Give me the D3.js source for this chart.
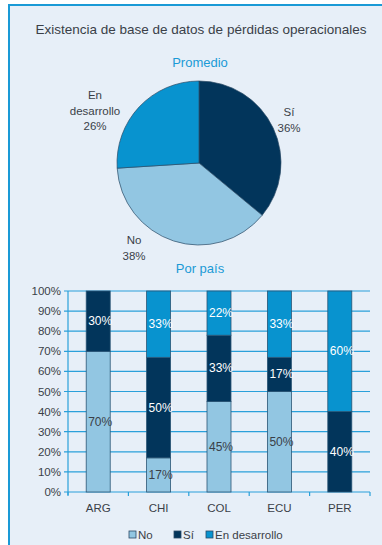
<!DOCTYPE html>
<meta charset="utf-8">
<style>
body { margin: 0; background: #fff; font-family: 'Liberation Sans', Arial, sans-serif; }
svg text { font-family: 'Liberation Sans', Arial, sans-serif; }
</style>
<svg id="chart" width="382" height="545"></svg>
<script src="https://cdn.jsdelivr.net/npm/d3@7"></script>
<script>

// pie data (Promedio)
var pieLabels = ["Sí", "No", "En desarrollo"];
var pieValues = [36, 38, 26];

// bar data (Por país)
var countries = ["ARG", "CHI", "COL", "ECU", "PER"];
var noVals  = [70, 17, 45, 50, 0];
var siVals  = [30, 50, 33, 17, 40];
var desVals = [0, 33, 22, 33, 60];
var yTicks = [0, 10, 20, 30, 40, 50, 60, 70, 80, 90, 100];

var colors = { "No": "#92c6e2", "Sí": "#02355b", "En desarrollo": "#0893cf" };
var textDark = "#3a3f48";

var svg = d3.select("#chart");

// panel
svg.append("rect").attr("x", 9).attr("y", 5).attr("width", 380).attr("height", 545)
  .attr("fill", "#e7eff8").attr("stroke", "#1a9ad6").attr("stroke-width", 2);

svg.append("text").attr("x", 201).attr("y", 34).attr("text-anchor", "middle")
  .attr("font-size", 13.5).attr("fill", textDark)
  .text("Existencia de base de datos de pérdidas operacionales");

svg.append("text").attr("x", 200).attr("y", 67).attr("text-anchor", "middle")
  .attr("font-size", 13).attr("fill", "#1a9ad6").text("Promedio");

// ---- pie ----
var pieData = pieLabels.map(function(d, i) { return { label: d, value: pieValues[i] }; });
var pie = d3.pie().sort(null).value(function(d) { return d.value; });
var arc = d3.arc().innerRadius(0).outerRadius(82);

var pg = svg.append("g").attr("transform", "translate(199,163)");
pg.selectAll("path")
  .data(pie(pieData))
  .enter().append("path")
    .attr("d", arc)
    .attr("fill", function(d) { return colors[d.data.label]; })
    .attr("stroke", "#2b4a66")
    .attr("stroke-width", 0.7);

var pieLabelPos = {
  "Sí": [289, 112],
  "En desarrollo": [95, 95],
  "No": [134, 240]
};
pie(pieData).forEach(function(d) {
  var p = pieLabelPos[d.data.label];
  var lines = d.data.label == "En desarrollo" ? ["En", "desarrollo"] : [d.data.label];
  lines.push(d.data.value + "%");
  var t = svg.append("text").attr("text-anchor", "middle")
    .attr("font-size", 11.5).attr("fill", textDark);
  lines.forEach(function(l, i) {
    t.append("tspan").attr("x", p[0]).attr("y", p[1] + 4 + i * 15.5).text(l);
  });
});

// ---- stacked bars ----
svg.append("text").attr("x", 200).attr("y", 273).attr("text-anchor", "middle")
  .attr("font-size", 13).attr("fill", "#1a9ad6").text("Por país");

var x = d3.scaleBand().domain(countries).range([68, 370]).paddingInner(0.6).paddingOuter(0.3);
var y = d3.scaleLinear().domain([0, 100]).range([492, 291]);

// grid
svg.append("g").selectAll("line")
  .data(yTicks)
  .enter().append("line")
    .attr("x1", 64).attr("x2", 370)
    .attr("y1", function(d) { return y(d); }).attr("y2", function(d) { return y(d); })
    .attr("stroke", "#2aa0da").attr("stroke-width", 1.2);

svg.append("g").selectAll("text")
  .data(yTicks)
  .enter().append("text")
    .attr("x", 61).attr("y", function(d) { return y(d) + 4; })
    .attr("text-anchor", "end").attr("font-size", 11.5).attr("fill", textDark)
    .text(function(d) { return d + "%"; });

svg.append("line").attr("x1", 68).attr("x2", 68).attr("y1", 291).attr("y2", 495)
  .attr("stroke", "#2aa0da").attr("stroke-width", 1.2);

// x tick marks at band boundaries
var step = (370 - 68) / countries.length;
svg.append("g").selectAll("line")
  .data(d3.range(countries.length + 1))
  .enter().append("line")
    .attr("x1", function(i) { return 68 + i * step; })
    .attr("x2", function(i) { return 68 + i * step; })
    .attr("y1", 492).attr("y2", 496)
    .attr("stroke", "#2aa0da").attr("stroke-width", 1.2);

var keys = ["No", "Sí", "En desarrollo"];
var rows = countries.map(function(c, i) {
  return { country: c, "No": noVals[i], "Sí": siVals[i], "En desarrollo": desVals[i] };
});
var series = d3.stack().keys(keys)(rows);

var bw = 24;
series.forEach(function(s) {
  var g = svg.append("g");
  g.selectAll("rect")
    .data(s.filter(function(d) { return d[1] > d[0]; }))
    .enter().append("rect")
      .attr("x", function(d) { return x(d.data.country) + x.bandwidth() / 2 - bw / 2; })
      .attr("width", bw)
      .attr("y", function(d) { return y(d[1]); })
      .attr("height", function(d) { return y(d[0]) - y(d[1]); })
      .attr("fill", colors[s.key])
      .attr("stroke", "#2b5575").attr("stroke-width", 0.8);
  g.selectAll("text")
    .data(s.filter(function(d) { return d[1] > d[0]; }))
    .enter().append("text")
      .attr("x", function(d) { return x(d.data.country) + x.bandwidth() / 2 + 2; })
      .attr("y", function(d) { return y((d[0] + d[1]) / 2) + 4; })
      .attr("text-anchor", "middle").attr("font-size", 12)
      .attr("fill", s.key == "No" ? textDark : "#fff")
      .text(function(d) { return (d[1] - d[0]) + "%"; });
});

svg.append("g").selectAll("text")
  .data(countries)
  .enter().append("text")
    .attr("x", function(d) { return x(d) + x.bandwidth() / 2; })
    .attr("y", 512).attr("text-anchor", "middle")
    .attr("font-size", 11.5).attr("fill", textDark)
    .text(function(d) { return d; });

// legend
var legendX = [129, 174, 206];
var lg = svg.append("g");
keys.forEach(function(k, i) {
  lg.append("rect").attr("x", legendX[i]).attr("y", 531).attr("width", 7).attr("height", 7)
    .attr("fill", colors[k]).attr("stroke", "#2b4a66").attr("stroke-width", 0.8);
  lg.append("text").attr("x", legendX[i] + 9).attr("y", 539)
    .attr("font-size", 11.5).attr("fill", textDark).text(k);
});

</script>
